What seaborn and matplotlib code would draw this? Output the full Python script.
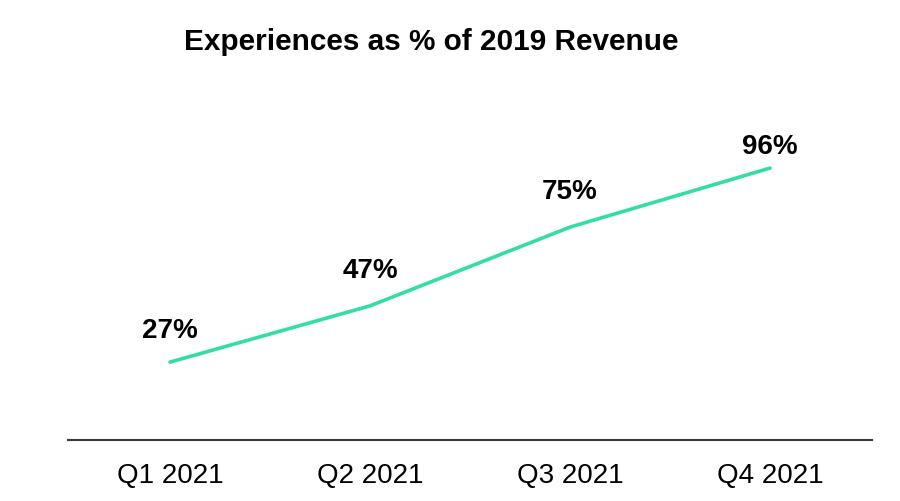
import matplotlib
matplotlib.use("Agg")
import matplotlib.pyplot as plt
import seaborn as sns
import pandas as pd

quarters = ["Q1 2021", "Q2 2021", "Q3 2021", "Q4 2021"]
values = [27, 47, 75, 96]
labels = ["27%", "47%", "75%", "96%"]
label_offsets_pt = [23, 26, 26, 16]

sns.set_theme(style="white")
plt.rcParams["font.family"] = ["Liberation Sans", "DejaVu Sans"]

df = pd.DataFrame({"quarter": quarters, "value": values})

fig = plt.figure(figsize=(9, 5.02), dpi=100)
ax = fig.add_axes([68 / 900, 0.1215, 804 / 900, 0.6201])

sns.lineplot(data=df, x="quarter", y="value", ax=ax, color="#34DDA0",
             linewidth=2.6, sort=False)

for i, (v, lab, off) in enumerate(zip(values, labels, label_offsets_pt)):
    ax.annotate(lab, xy=(i, v), xytext=(0, off), textcoords="offset points",
                ha="center", va="center", fontsize=20, fontweight="bold",
                color="black")

ax.set_xlim(-0.51, 3.51)
ax.set_ylim(-0.7, 110)
ax.set_xlabel("")
ax.set_ylabel("")
ax.set_yticks([])
for s in ["top", "left", "right"]:
    ax.spines[s].set_visible(False)
ax.spines["bottom"].set_color("#3a3a3a")
ax.spines["bottom"].set_linewidth(1.5)
ax.tick_params(axis="x", length=0, pad=15.5, labelsize=20, labelcolor="black")

fig.text(0.4794, 1 - 42 / 502, "Experiences as % of 2019 Revenue",
         ha="center", va="center", fontsize=21.4, fontweight="bold", color="black")

fig.savefig("out.png", dpi=100, facecolor="white")
